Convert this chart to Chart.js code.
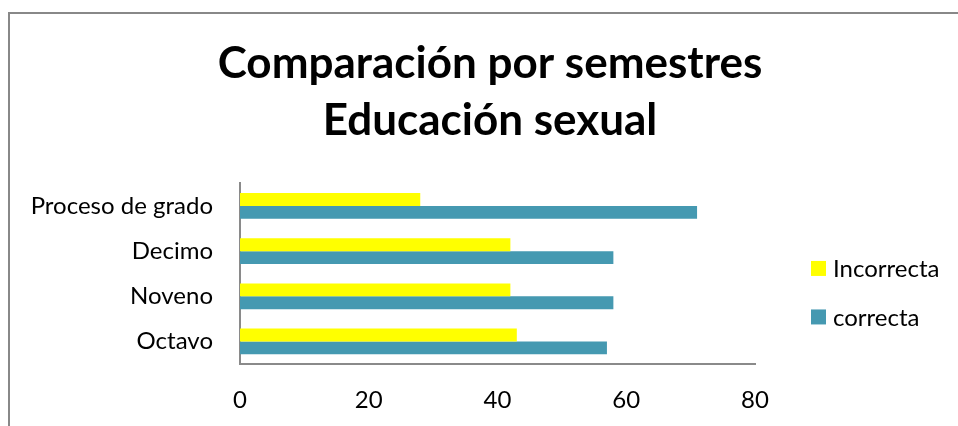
<!DOCTYPE html>
<html>
<head>
<meta charset="utf-8">
<script src="https://cdn.jsdelivr.net/npm/chart.js@4"></script>
<style>
  html, body { margin: 0; padding: 0; background: #fff; overflow: hidden; }
  #wrap { position: relative; width: 958px; height: 426px; }
  #frame {
    position: absolute; left: 8px; top: 12px; width: 1000px; height: 500px;
    border: 2px solid #888;
  }
  #chart { position: absolute; left: 0; top: 0; }
</style>
</head>
<body>
<div id="wrap">
  <div id="frame"></div>
  <canvas id="chart" width="958" height="426"></canvas>
</div>
<script>
const categories = ["Proceso de grado", "Decimo", "Noveno", "Octavo"];
const incorrecta = [28, 42, 42, 43];
const correcta = [71, 58, 58, 57];
const xTicks = [0, 20, 40, 60, 80];

const FONT = "Lato, 'Open Sans', sans-serif";

// legend drawn by hand so it sits where the original put it
const sideLegend = {
  id: "sideLegend",
  afterDraw(chart) {
    const { ctx, chartArea } = chart;
    const mid = (chartArea.top + chartArea.bottom) / 2 + 19;
    const items = chart.data.datasets;
    ctx.save();
    ctx.font = "24px " + FONT;
    ctx.textBaseline = "middle";
    items.forEach((ds, i) => {
      const y = mid + (i - (items.length - 1) / 2) * 48.5;
      ctx.fillStyle = ds.backgroundColor;
      ctx.fillRect(chartArea.right + 56, y - 7.5, 15, 15);
      ctx.fillStyle = "#000";
      ctx.fillText(ds.label, chartArea.right + 78, y + 1);
    });
    ctx.restore();
  },
};

new Chart(document.getElementById("chart"), {
  type: "bar",
  data: {
    labels: categories,
    datasets: [
      {
        label: "Incorrecta",
        data: incorrecta,
        backgroundColor: "#ffff00",
        yAxisID: "y",
      },
      {
        label: "correcta",
        data: correcta,
        backgroundColor: "#4599b1",
        yAxisID: "y",
      },
    ],
  },
  options: {
    indexAxis: "y",
    responsive: false,
    animation: false,
    categoryPercentage: 0.57,
    barPercentage: 1,
    layout: { padding: { left: 22, right: 0, top: 0, bottom: 0 } },
    plugins: {
      legend: { display: false },
      tooltip: { enabled: false },
      title: {
        display: true,
        text: ["Comparación por semestres", "Educación sexual"],
        color: "#000",
        font: { family: FONT, size: 44, weight: "bold", lineHeight: 1.3 },
        padding: { top: 35, bottom: 34 },
      },
    },
    scales: {
      x: {
        min: 0,
        max: 80,
        afterBuildTicks(scale) {
          scale.ticks = xTicks.map((v) => ({ value: v }));
        },
        grid: { display: false, drawTicks: false },
        border: { display: true, color: "#8a8a8a", width: 2 },
        ticks: { color: "#000", font: { family: FONT, size: 24 }, padding: 22 },
        afterFit(scale) { scale.height = 62; },
      },
      y: {
        grid: { display: false, drawTicks: false },
        border: { display: true, color: "#8a8a8a", width: 2 },
        ticks: { color: "#000", font: { family: FONT, size: 24 }, padding: 27 },
        afterFit(scale) { scale.width = 218; },
      },
      pad: {
        type: "linear",
        position: "right",
        grid: { display: false, drawTicks: false },
        border: { display: false },
        ticks: { display: false },
        afterFit(scale) { scale.width = 203; },
      },
    },
  },
  plugins: [sideLegend],
});
</script>
</body>
</html>
